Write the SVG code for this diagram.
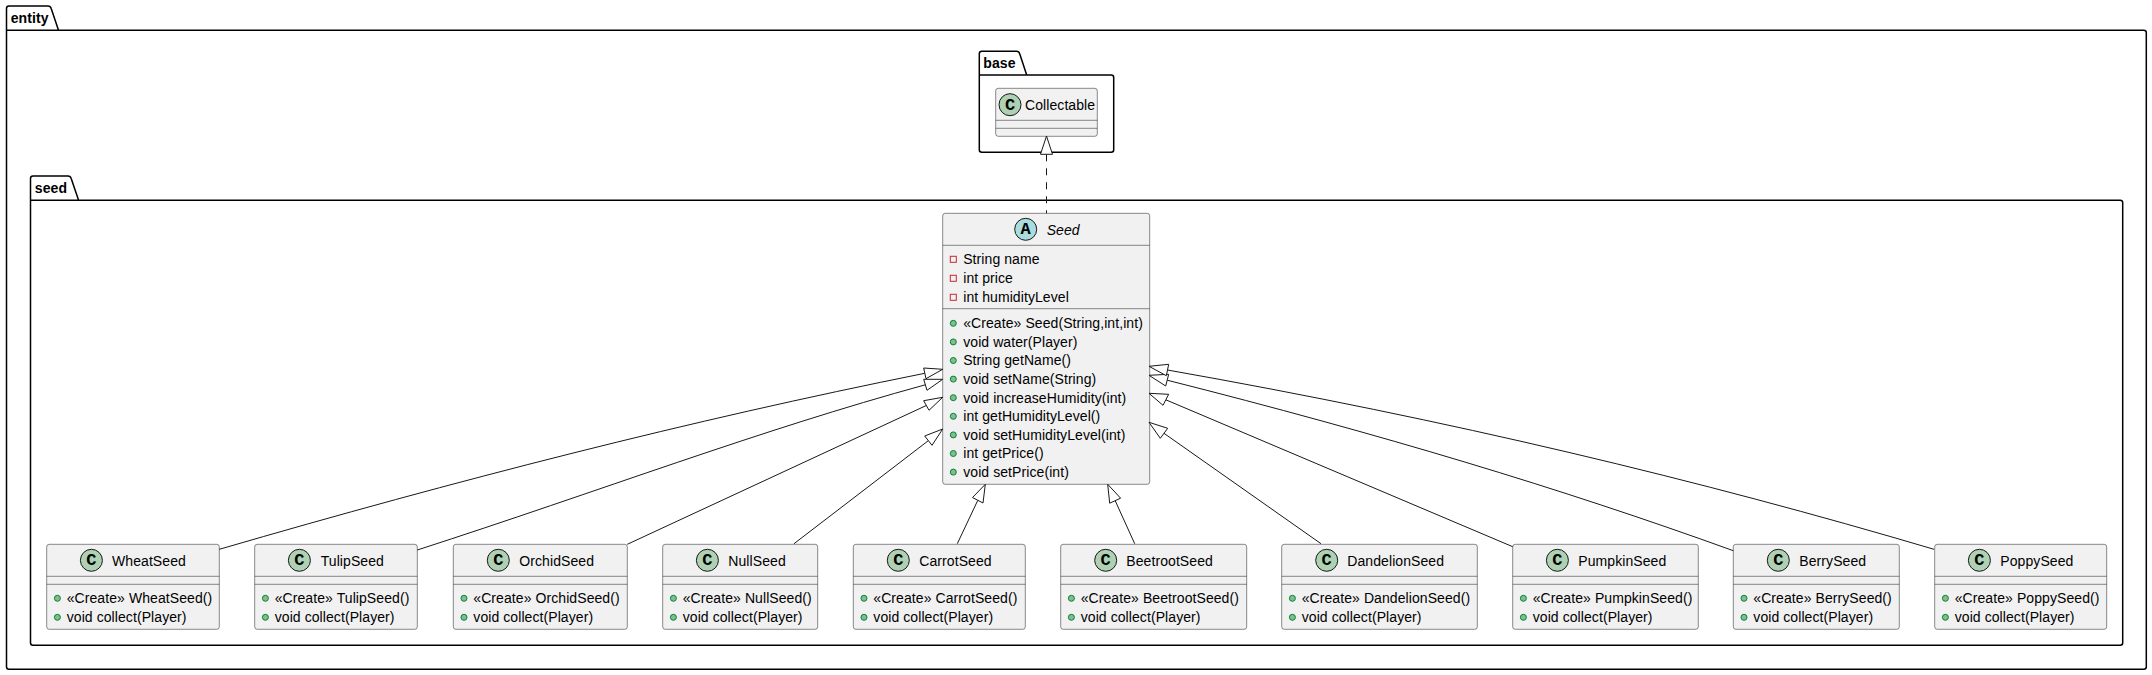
<svg xmlns="http://www.w3.org/2000/svg" width="2152" height="675" viewBox="0 0 2152 675">
<style>
text{font-family:"Liberation Sans",Arial,sans-serif;font-size:14px;fill:#000;letter-spacing:.08px}
.pk{fill:none;stroke:#000;stroke-width:1.5}
.pt{font-weight:bold;letter-spacing:.1px}
.box{fill:#F1F1F1;stroke:#181818;stroke-width:.5}
.sep{stroke:#181818;stroke-width:.5;fill:none}
.cc{fill:#ADD1B2;stroke:#181818;stroke-width:1}
.ca{fill:#A9DCDF;stroke:#181818;stroke-width:1}
.gl{font-family:"Liberation Mono",monospace;font-weight:bold;font-size:17px;text-anchor:middle;letter-spacing:0}
.pub{fill:#84BE84;stroke:#038048;stroke-width:1}
.pri{fill:none;stroke:#C82930;stroke-width:1}
.ln{fill:none;stroke:#181818;stroke-width:1}
.dash{stroke-dasharray:7 7}
.hd{fill:#fff;stroke:#181818;stroke-width:1}
</style>
<g id="pkg-entity"><path class="pk" d="M6.5 8.5Q6.5 6 9 6H48Q50.5 6 51.2 8.5L58.5 30.3H2143.8Q2146.3 30.3 2146.3 32.8V666.8Q2146.3 669.3 2143.8 669.3H9Q6.5 669.3 6.5 666.8ZM6.5 30.3H58.5"/><text class="pt" x="10.7" y="23.3">entity</text></g>
<g id="pkg-seed"><path class="pk" d="M30.5 178.5Q30.5 176 33 176H68Q70.5 176 71.2 178.5L78.6 200.3H2120.2Q2122.7 200.3 2122.7 202.8V642.8Q2122.7 645.3 2120.2 645.3H33Q30.5 645.3 30.5 642.8ZM30.5 200.3H78.6"/><text class="pt" x="34.8" y="193.3">seed</text></g>
<g id="pkg-base"><path class="pk" d="M979.3 53.8Q979.3 51.3 981.8 51.3H1016.5Q1019 51.3 1019.7 53.8L1026.7 75H1111.2Q1113.7 75 1113.7 77.5V149.8Q1113.7 152.3 1111.2 152.3H981.8Q979.3 152.3 979.3 149.8ZM979.3 75H1026.7"/><text class="pt" x="983.3" y="67.7">base</text></g>

<g id="Collectable" transform="translate(995.7 88.3)"><rect class="box" width="101.6" height="48" rx="2.5"/><path class="sep" d="M0 32H101.6M0 40H101.6"/><circle class="cc" cx="14.3" cy="16.4" r="11"/><text class="gl" x="14.3" y="21.5">C</text><text x="29.3" y="21.7">Collectable</text></g>

<g id="Seed" transform="translate(942.7 213.3)"><rect class="box" width="207" height="271" rx="2.5"/><path class="sep" d="M0 32H207M0 95.4H207"/><circle class="ca" cx="83" cy="16" r="11"/><text class="gl" x="83" y="21.1">A</text><text x="104" y="21.7" font-style="italic">Seed</text>
<g><rect class="pri" x="7.6" y="43" width="6" height="6"/><rect class="pri" x="7.6" y="62" width="6" height="6"/><rect class="pri" x="7.6" y="81" width="6" height="6"/>
<text x="20.5" y="51">String name</text><text x="20.5" y="69.8">int price</text><text x="20.5" y="88.3">int humidityLevel</text></g>
<g><circle class="pub" cx="10.6" cy="110" r="3"/><circle class="pub" cx="10.6" cy="128.6" r="3"/><circle class="pub" cx="10.6" cy="147.2" r="3"/><circle class="pub" cx="10.6" cy="165.8" r="3"/><circle class="pub" cx="10.6" cy="184.4" r="3"/><circle class="pub" cx="10.6" cy="203" r="3"/><circle class="pub" cx="10.6" cy="221.6" r="3"/><circle class="pub" cx="10.6" cy="240.2" r="3"/><circle class="pub" cx="10.6" cy="258.8" r="3"/>
<text x="20.5" y="115">«Create» Seed(String,int,int)</text><text x="20.5" y="133.6">void water(Player)</text><text x="20.5" y="152.2">String getName()</text><text x="20.5" y="170.8">void setName(String)</text><text x="20.5" y="189.4">void increaseHumidity(int)</text><text x="20.5" y="208">int getHumidityLevel()</text><text x="20.5" y="226.6">void setHumidityLevel(int)</text><text x="20.5" y="245.2">int getPrice()</text><text x="20.5" y="263.8">void setPrice(int)</text></g></g>

<g id="WheatSeed" transform="translate(46.7 544.3)"><rect class="box" width="172.6" height="85" rx="2.5"/><path class="sep" d="M0 32H172.6M0 40H172.6"/><circle class="cc" cx="44.7" cy="16" r="11"/><text class="gl" x="44.7" y="21.1">C</text><text x="65.3" y="21.7">WheatSeed</text><circle class="pub" cx="10.7" cy="54" r="3"/><circle class="pub" cx="10.7" cy="73" r="3"/><text x="20" y="58.7">«Create» WheatSeed()</text><text x="20" y="77.7">void collect(Player)</text></g>
<g id="TulipSeed" transform="translate(254.7 544.3)"><rect class="box" width="162.6" height="85" rx="2.5"/><path class="sep" d="M0 32H162.6M0 40H162.6"/><circle class="cc" cx="44.7" cy="16" r="11"/><text class="gl" x="44.7" y="21.1">C</text><text x="66" y="21.7">TulipSeed</text><circle class="pub" cx="10.7" cy="54" r="3"/><circle class="pub" cx="10.7" cy="73" r="3"/><text x="20" y="58.7">«Create» TulipSeed()</text><text x="20" y="77.7">void collect(Player)</text></g>
<g id="OrchidSeed" transform="translate(453.3 544.3)"><rect class="box" width="174" height="85" rx="2.5"/><path class="sep" d="M0 32H174M0 40H174"/><circle class="cc" cx="45" cy="16" r="11"/><text class="gl" x="45" y="21.1">C</text><text x="66" y="21.7">OrchidSeed</text><circle class="pub" cx="10.7" cy="54" r="3"/><circle class="pub" cx="10.7" cy="73" r="3"/><text x="20" y="58.7">«Create» OrchidSeed()</text><text x="20" y="77.7">void collect(Player)</text></g>
<g id="NullSeed" transform="translate(662.7 544.3)"><rect class="box" width="155" height="85" rx="2.5"/><path class="sep" d="M0 32H155M0 40H155"/><circle class="cc" cx="44.7" cy="16" r="11"/><text class="gl" x="44.7" y="21.1">C</text><text x="65.6" y="21.7">NullSeed</text><circle class="pub" cx="10.7" cy="54" r="3"/><circle class="pub" cx="10.7" cy="73" r="3"/><text x="20" y="58.7">«Create» NullSeed()</text><text x="20" y="77.7">void collect(Player)</text></g>
<g id="CarrotSeed" transform="translate(853.3 544.3)"><rect class="box" width="172" height="85" rx="2.5"/><path class="sep" d="M0 32H172M0 40H172"/><circle class="cc" cx="45" cy="16" r="11"/><text class="gl" x="45" y="21.1">C</text><text x="66" y="21.7">CarrotSeed</text><circle class="pub" cx="10.7" cy="54" r="3"/><circle class="pub" cx="10.7" cy="73" r="3"/><text x="20" y="58.7">«Create» CarrotSeed()</text><text x="20" y="77.7">void collect(Player)</text></g>
<g id="BeetrootSeed" transform="translate(1060.7 544.3)"><rect class="box" width="186" height="85" rx="2.5"/><path class="sep" d="M0 32H186M0 40H186"/><circle class="cc" cx="45" cy="16" r="11"/><text class="gl" x="45" y="21.1">C</text><text x="65.6" y="21.7">BeetrootSeed</text><circle class="pub" cx="10.7" cy="54" r="3"/><circle class="pub" cx="10.7" cy="73" r="3"/><text x="20" y="58.7">«Create» BeetrootSeed()</text><text x="20" y="77.7">void collect(Player)</text></g>
<g id="DandelionSeed" transform="translate(1281.7 544.3)"><rect class="box" width="195.6" height="85" rx="2.5"/><path class="sep" d="M0 32H195.6M0 40H195.6"/><circle class="cc" cx="45" cy="16" r="11"/><text class="gl" x="45" y="21.1">C</text><text x="65.6" y="21.7">DandelionSeed</text><circle class="pub" cx="10.7" cy="54" r="3"/><circle class="pub" cx="10.7" cy="73" r="3"/><text x="20" y="58.7">«Create» DandelionSeed()</text><text x="20" y="77.7">void collect(Player)</text></g>
<g id="PumpkinSeed" transform="translate(1512.7 544.3)"><rect class="box" width="185.6" height="85" rx="2.5"/><path class="sep" d="M0 32H185.6M0 40H185.6"/><circle class="cc" cx="44.7" cy="16" r="11"/><text class="gl" x="44.7" y="21.1">C</text><text x="65.6" y="21.7">PumpkinSeed</text><circle class="pub" cx="10.7" cy="54" r="3"/><circle class="pub" cx="10.7" cy="73" r="3"/><text x="20" y="58.7">«Create» PumpkinSeed()</text><text x="20" y="77.7">void collect(Player)</text></g>
<g id="BerrySeed" transform="translate(1733.3 544.3)"><rect class="box" width="166" height="85" rx="2.5"/><path class="sep" d="M0 32H166M0 40H166"/><circle class="cc" cx="45" cy="16" r="11"/><text class="gl" x="45" y="21.1">C</text><text x="66" y="21.7">BerrySeed</text><circle class="pub" cx="10.7" cy="54" r="3"/><circle class="pub" cx="10.7" cy="73" r="3"/><text x="20" y="58.7">«Create» BerrySeed()</text><text x="20" y="77.7">void collect(Player)</text></g>
<g id="PoppySeed" transform="translate(1934.7 544.3)"><rect class="box" width="172" height="85" rx="2.5"/><path class="sep" d="M0 32H172M0 40H172"/><circle class="cc" cx="44.7" cy="16" r="11"/><text class="gl" x="44.7" y="21.1">C</text><text x="65.6" y="21.7">PoppySeed</text><circle class="pub" cx="10.7" cy="54" r="3"/><circle class="pub" cx="10.7" cy="73" r="3"/><text x="20" y="58.7">«Create» PoppySeed()</text><text x="20" y="77.7">void collect(Player)</text></g>

<g id="connectors">
<path class="ln dash" d="M1046.5 154.3V213.3"/><path class="hd" d="M1046.5 136L1040.5 154.3H1052.5Z"/>
<path class="ln" d="M219.3 549.3C454 481 690 420.3 924.8 373.3"/><path class="hd" d="M942.7 369.3L923.7 368L926 378.7Z"/>
<path class="ln" d="M417.3 550C600 491 760 430 925.3 384.8"/><path class="hd" d="M942.7 379.3L923.7 379.3L927 390.3Z"/>
<path class="ln" d="M627.3 544.3L926.3 405.5"/><path class="hd" d="M942.7 397.3L923.7 400.7L929 410.3Z"/>
<path class="ln" d="M794 543.7L928.3 440.7"/><path class="hd" d="M942.7 429L924.7 436L932 445.3Z"/>
<path class="ln" d="M957.3 543.7L977.7 500.5"/><path class="hd" d="M985.3 484.3L972.5 497.5L983 503Z"/>
<path class="ln" d="M1134.7 543.7L1115.2 500.7"/><path class="hd" d="M1107.7 484.3L1109.7 503.2L1120.6 498.2Z"/>
<path class="ln" d="M1321 543.7L1164 433.3"/><path class="hd" d="M1149 422.3L1167.7 428.3L1160.3 438.3Z"/>
<path class="ln" d="M1512.7 546.7L1165.8 399.8"/><path class="hd" d="M1149 393.3L1168.7 394.3L1163 405.3Z"/>
<path class="ln" d="M1733.3 550.7C1560 488 1380 434 1167.2 380.2"/><path class="hd" d="M1149 375.3L1168.7 374.3L1165.7 386Z"/>
<path class="ln" d="M1934 549.3C1700 480 1450 420 1167.5 370"/><path class="hd" d="M1149 366.3L1168.7 364.3L1166.3 375.7Z"/>
</g>
</svg>
